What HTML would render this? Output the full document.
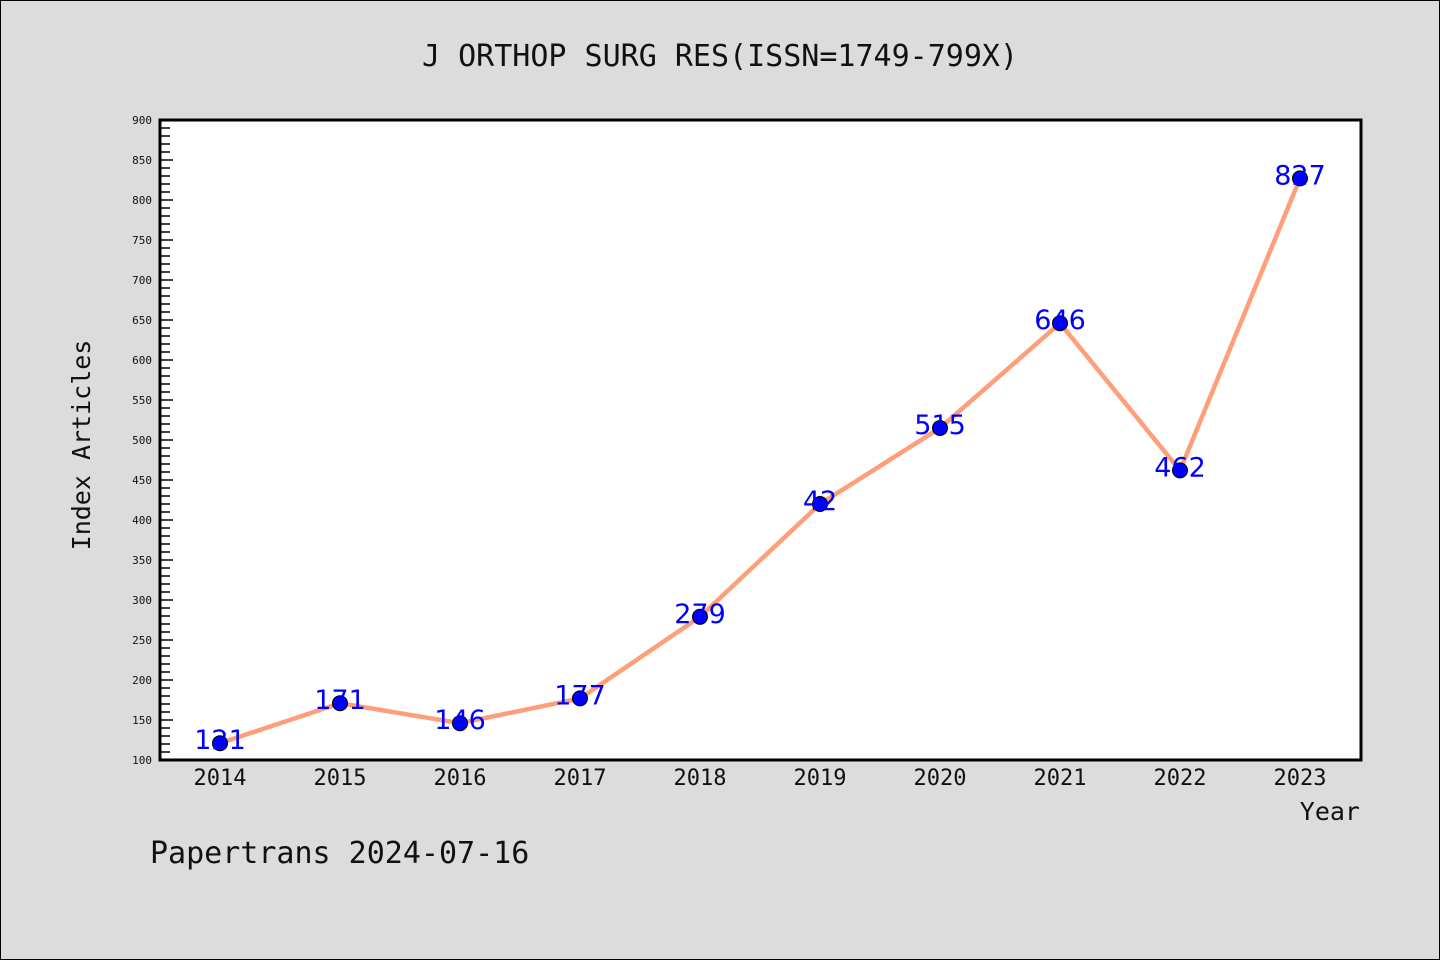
<!DOCTYPE html>
<html><head><meta charset="utf-8"><style>
body{margin:0;background:#dcdcdc;}
svg{display:block;font-family:"DejaVu Sans Mono","Liberation Mono",monospace;}
</style></head><body>
<svg id="chart" width="1440" height="960" xmlns="http://www.w3.org/2000/svg">
<rect x="0.5" y="0.5" width="1439" height="959" fill="#dcdcdc" stroke="#000"/>
<text x="720" y="66" font-size="30" text-anchor="middle" fill="#111">J ORTHOP SURG RES(ISSN=1749-799X)</text>
<rect x="160" y="120" width="1201" height="640" fill="#fff" stroke="#000" stroke-width="3"/>
<g id="yticks"></g>
<g id="xticks"></g>
<text transform="translate(90,445) rotate(-90)" font-size="25" text-anchor="middle" fill="#111">Index Articles</text>
<text x="1360" y="820" font-size="25" text-anchor="end" fill="#111">Year</text>
<text x="150" y="863" font-size="30" fill="#111">Papertrans 2024-07-16</text>
<g id="series"></g>
</svg>
<script>
const years=["2014","2015","2016","2017","2018","2019","2020","2021","2022","2023"];
const values=[121,171,146,177,279,420,515,646,462,827];
const labels=["121","171","146","177","279","42","515","646","462","827"];
const yMin=100,yMax=900,yMajor=50,yMinor=10;
const NS="http://www.w3.org/2000/svg";
function x(i){return 220+i*120;}
function y(v){return 760-(v-yMin)*640/(yMax-yMin);}
function mk(t,a,p){const e=document.createElementNS(NS,t);for(const k in a)e.setAttribute(k,a[k]);p.appendChild(e);return e;}
const yt=document.getElementById('yticks');
for(let v=yMin;v<=yMax;v+=yMinor){
  const major=(v-yMin)%yMajor===0;
  const l=mk('line',{x1:160,x2:major?173:170,y1:y(v),y2:y(v),stroke:'#000','stroke-width':1.5},yt);
  
  
  if(major){const t=mk('text',{x:152,y:y(v)+4,'font-size':11,'text-anchor':'end',fill:'#111'},yt);t.textContent=v;
  
  }
}
const xt=document.getElementById('xticks');
years.forEach((yr,i)=>{const t=mk('text',{x:x(i),y:785,'font-size':22,'text-anchor':'middle',fill:'#111'},xt);t.textContent=yr;

});
const s=document.getElementById('series');
const pl=mk('polyline',{points:values.map((v,i)=>x(i)+','+y(v)).join(' '),fill:'none',stroke:'#ff9f7a','stroke-width':4.5,'stroke-linejoin':'round'},s);


values.forEach((v,i)=>{
  const c=mk('circle',{cx:x(i),cy:y(v),r:7.5,fill:'#0000ff',stroke:'#000','stroke-width':1},s);
  
  
  const t=mk('text',{x:x(i),y:y(v)+6,'font-size':27,'text-anchor':'middle',fill:'#0000ff','font-family':'"DejaVu Sans",sans-serif'},s);
  t.textContent=labels[i];
  
  
});
</script>
</body></html>
